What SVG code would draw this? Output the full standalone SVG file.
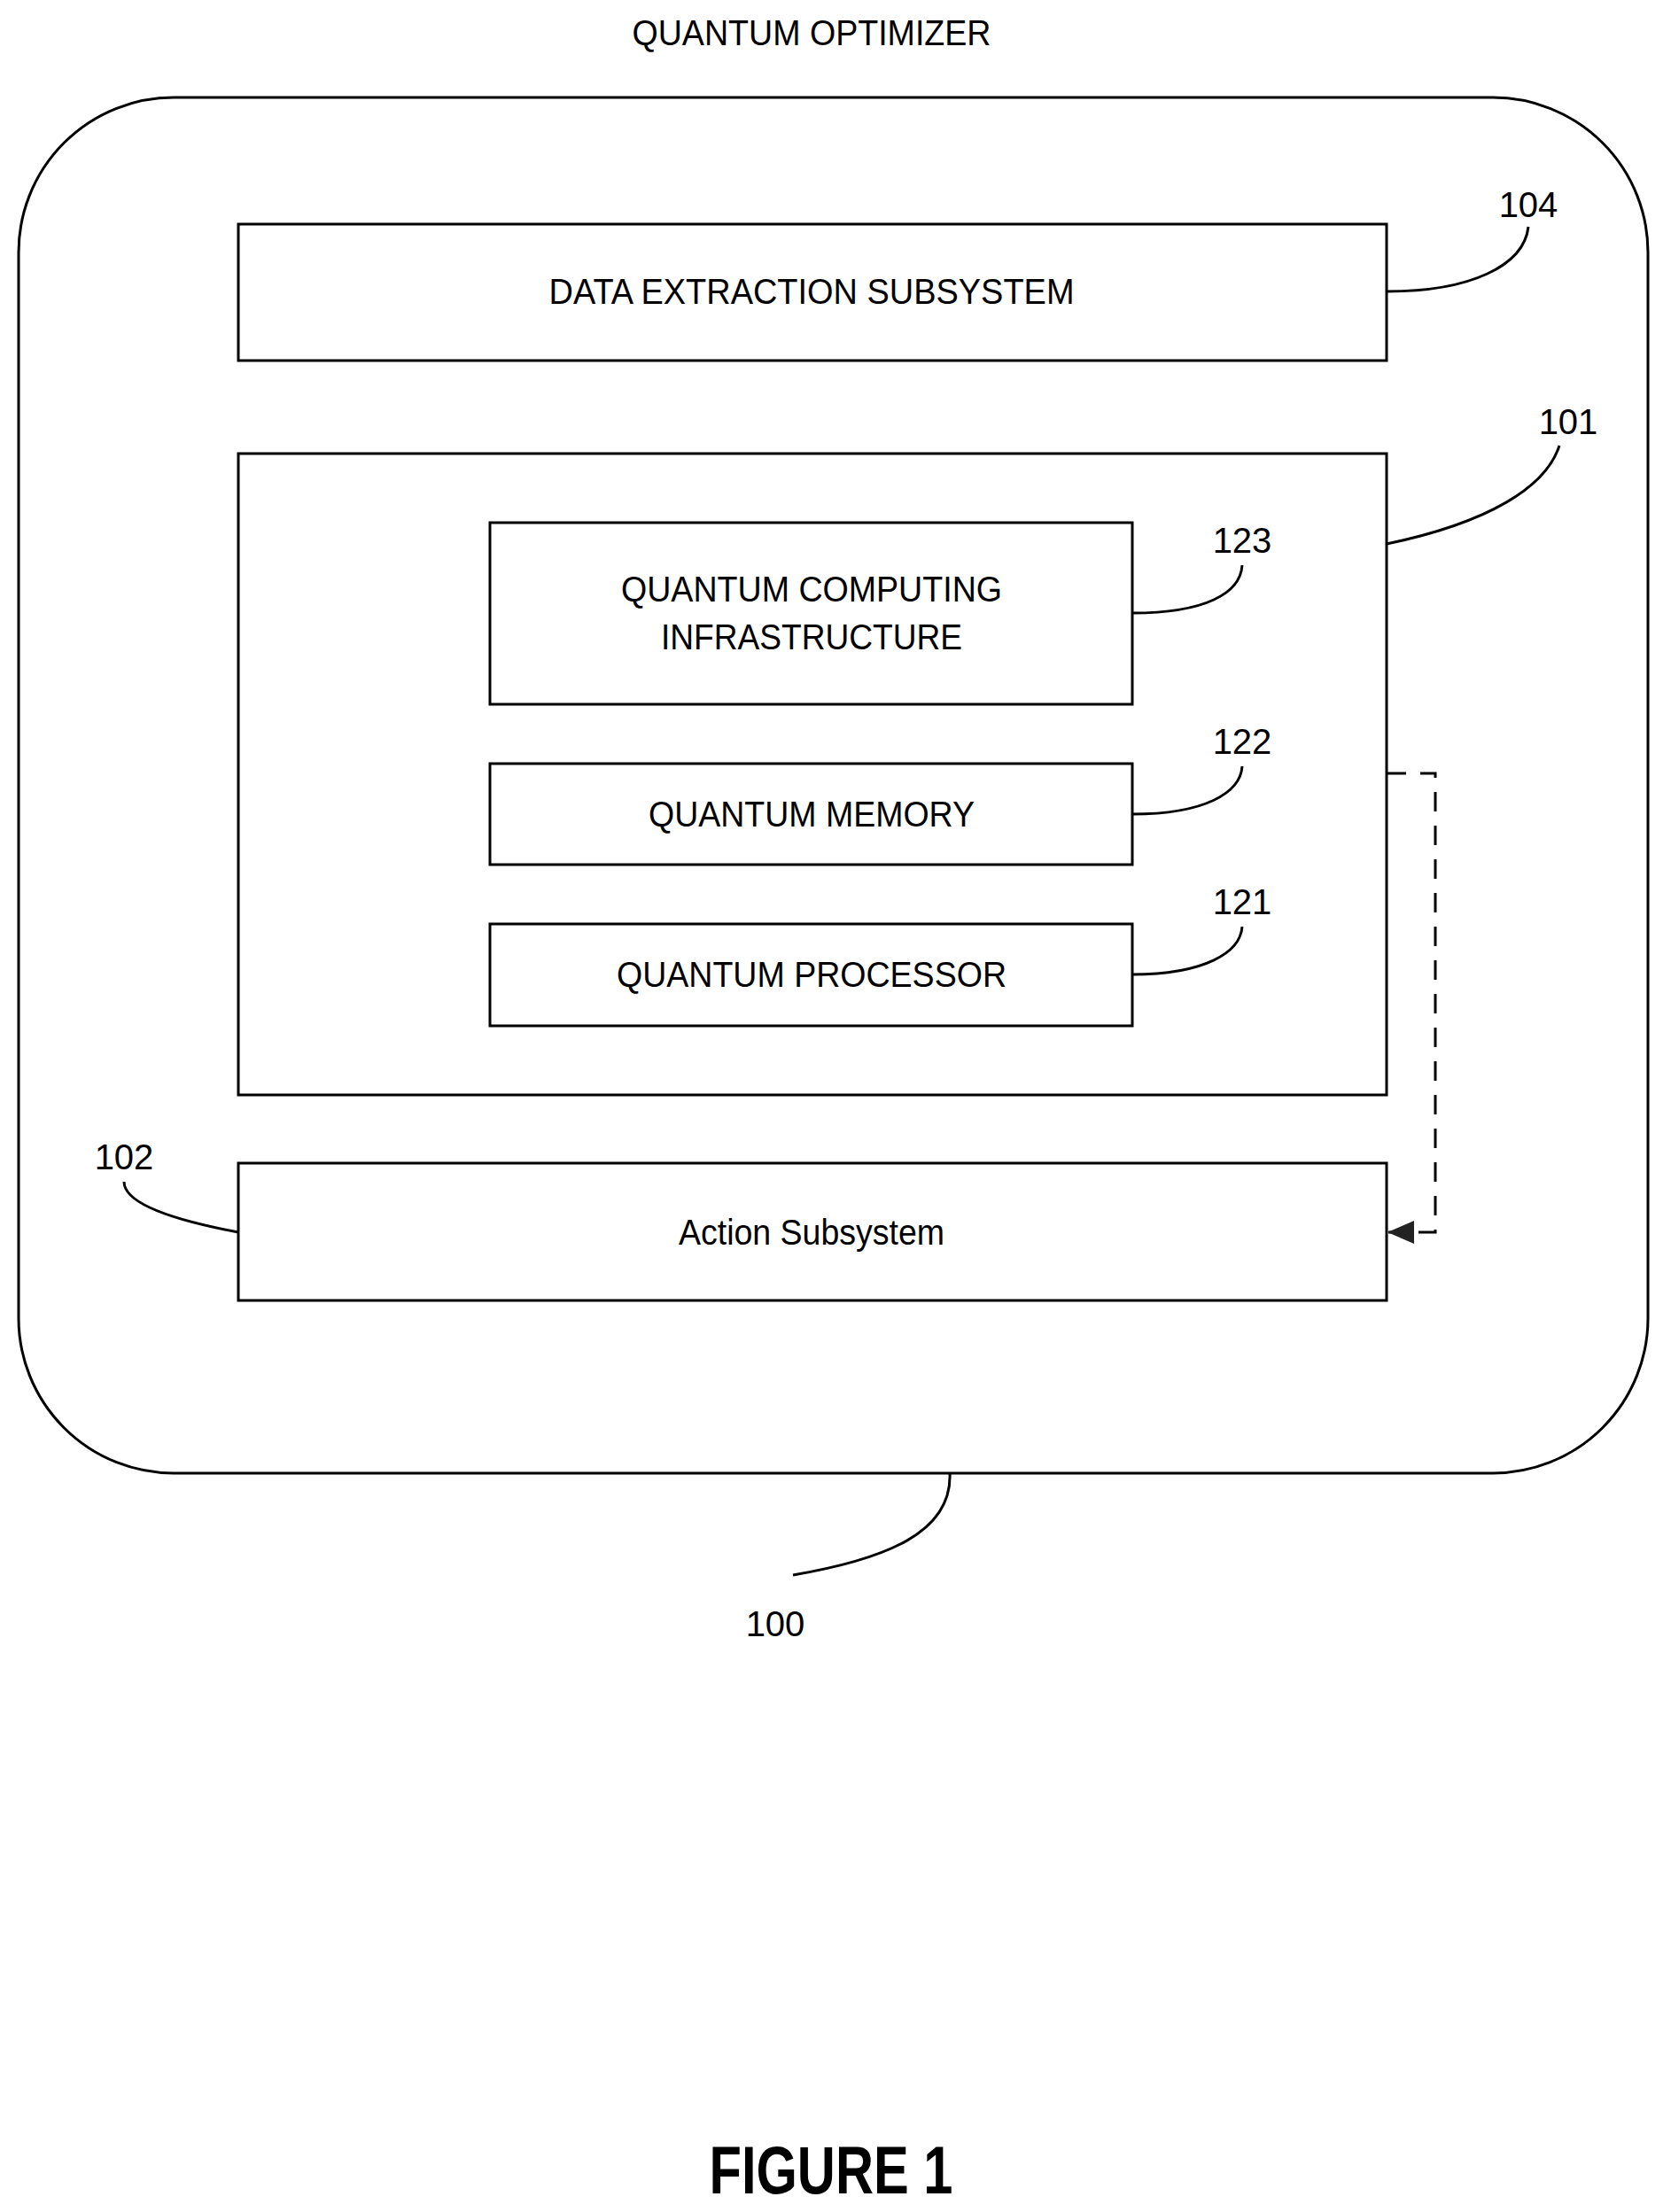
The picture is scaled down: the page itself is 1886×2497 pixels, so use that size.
<svg xmlns="http://www.w3.org/2000/svg" width="1886" height="2497" viewBox="0 0 1886 2497">
<style>
.b{fill:#fff;stroke:#000;stroke-width:3}
.l{fill:none;stroke:#000;stroke-width:3}
text{font-family:"Liberation Sans",Arial,sans-serif;font-size:40px;fill:#000;text-anchor:middle}
</style>
<defs>
<marker id="a2" markerWidth="30" markerHeight="26" refX="29" refY="13" orient="auto" markerUnits="userSpaceOnUse"><path d="M0,0 L30,13 L0,26 Z" fill="#222"/></marker></defs>
<rect width="1886" height="2497" fill="#fff"/>
<text x="916" y="51" textLength="405" lengthAdjust="spacingAndGlyphs">QUANTUM OPTIMIZER</text>
<g id="n100"><rect class="b" x="21" y="110" width="1839" height="1553" rx="175"/></g>
<g id="n104"><rect class="b" x="269" y="253" width="1296" height="154"/><text x="916" y="343" textLength="593" lengthAdjust="spacingAndGlyphs">DATA EXTRACTION SUBSYSTEM</text></g>
<g id="n101"><rect class="b" x="269" y="512" width="1296" height="724"/></g>
<g id="n123"><rect class="b" x="553" y="590" width="725" height="205"/><text x="916" y="679" textLength="430" lengthAdjust="spacingAndGlyphs">QUANTUM COMPUTING</text><text x="916" y="733" textLength="340" lengthAdjust="spacingAndGlyphs">INFRASTRUCTURE</text></g>
<g id="n122"><rect class="b" x="553" y="862" width="725" height="114"/><text x="916" y="933" textLength="368" lengthAdjust="spacingAndGlyphs">QUANTUM MEMORY</text></g>
<g id="n121"><rect class="b" x="553" y="1043" width="725" height="115"/><text x="916" y="1114" textLength="440" lengthAdjust="spacingAndGlyphs">QUANTUM PROCESSOR</text></g>
<g id="n102"><rect class="b" x="269" y="1313" width="1296" height="155"/><text x="916" y="1405" textLength="300" lengthAdjust="spacingAndGlyphs">Action Subsystem</text></g>
<g id="connectors">
<path class="l" d="M1565,329 C1660,329 1720,300 1725,256"/>
<path class="l" d="M1565,614 C1680,590 1745,550 1760,503"/>
<path class="l" d="M1278,692 C1360,692 1400,670 1402,638"/>
<path class="l" d="M1278,919 C1360,919 1400,895 1402,865"/>
<path class="l" d="M1278,1100 C1360,1100 1400,1075 1402,1046"/>
<path class="l" d="M269,1391 C200,1378 140,1360 140,1334"/>
<path class="l" d="M1072,1663 C1075,1730 1000,1760 895,1778"/>
<path class="l" d="M1565,873 H1620 V1391 H1567" stroke-dasharray="22,16" marker-end="url(#a2)"/>
</g>
<text x="1725" y="245">104</text>
<text x="1770" y="490">101</text>
<text x="1402" y="624">123</text>
<text x="1402" y="851">122</text>
<text x="1402" y="1032">121</text>
<text x="140" y="1320">102</text>
<text x="875" y="1847">100</text>
<text x="938" y="2476" textLength="275" lengthAdjust="spacingAndGlyphs" style="font-size:76px;font-weight:bold">FIGURE 1</text>
</svg>
